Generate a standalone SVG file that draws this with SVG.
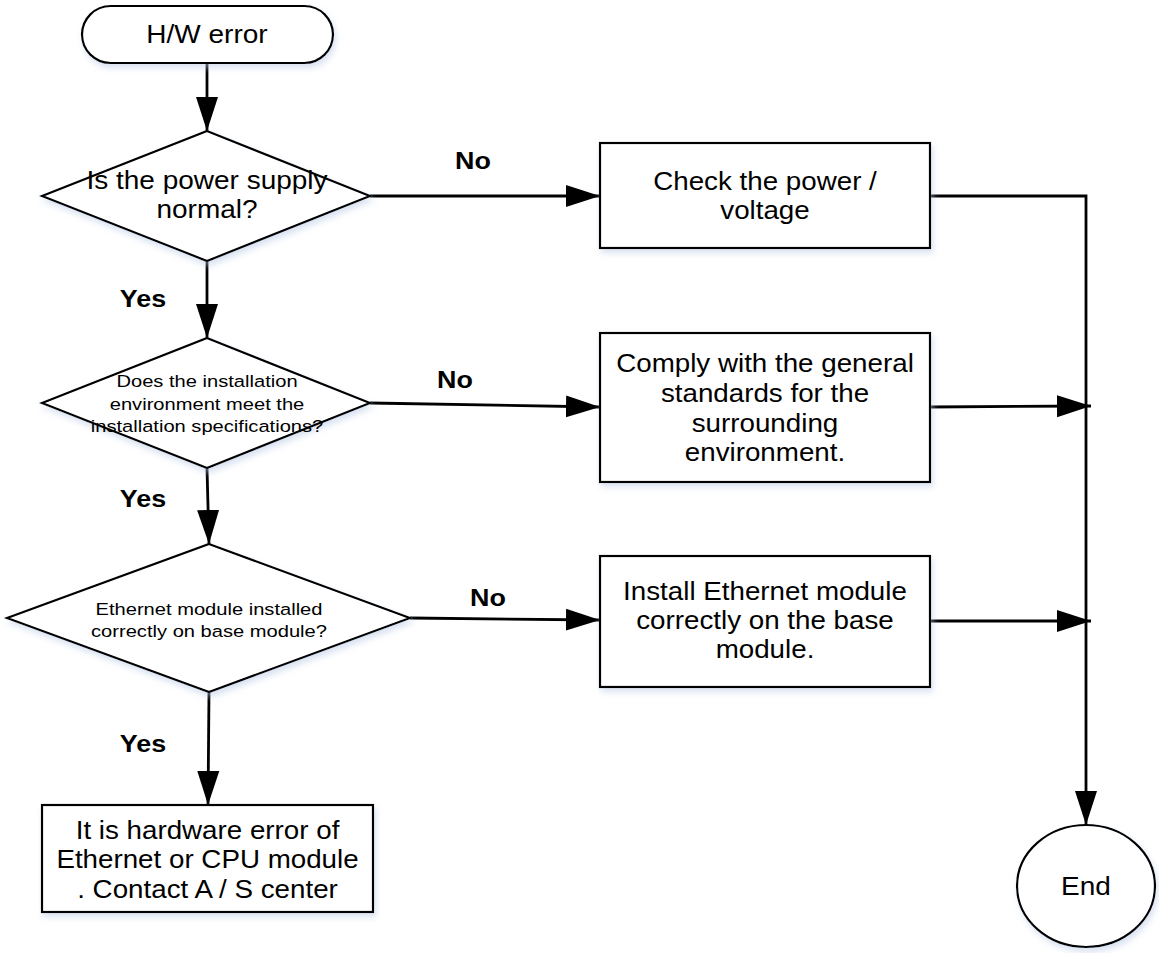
<svg xmlns="http://www.w3.org/2000/svg" width="1159" height="953" viewBox="0 0 1159 953">
  <defs>
    <marker id="ah" markerUnits="userSpaceOnUse" markerWidth="36" markerHeight="24" viewBox="0 0 36 24" refX="34" refY="12" orient="auto">
      <path d="M0,1 L34,12 L0,23 Z" fill="#000"/>
    </marker>
    <filter id="sh" x="-10%" y="-10%" width="120%" height="130%">
      <feDropShadow dx="2" dy="4" stdDeviation="3" flood-color="#b9cbe6" flood-opacity="0.55"/>
    </filter>
  </defs>
  <style>
    .shape { fill: #fff; stroke: #000; stroke-width: 2.2; filter: url(#sh); }
    .conn { fill: none; stroke: #000; stroke-width: 2.8; }
    .t { font-family: "Liberation Sans", Arial, sans-serif; font-size: 25px; fill: #000; text-anchor: middle; }
    .td { font-family: "Liberation Sans", Arial, sans-serif; font-size: 16.5px; fill: #000; text-anchor: middle; }
    .lbl { font-family: "Liberation Sans", Arial, sans-serif; font-size: 24px; font-weight: bold; fill: #000; text-anchor: middle; }
  </style>
  <rect width="1159" height="953" fill="#fff"/>

  <g id="connectors">
    <line class="conn" x1="207" y1="63" x2="207" y2="131" marker-end="url(#ah)"/>
    <line class="conn" x1="370" y1="196" x2="600" y2="196" marker-end="url(#ah)"/>
    <line class="conn" x1="207" y1="261" x2="207" y2="338" marker-end="url(#ah)"/>
    <line class="conn" x1="370" y1="403" x2="600" y2="407" marker-end="url(#ah)"/>
    <line class="conn" x1="207" y1="468" x2="209" y2="544" marker-end="url(#ah)"/>
    <line class="conn" x1="410" y1="618" x2="600" y2="620" marker-end="url(#ah)"/>
    <line class="conn" x1="209" y1="692" x2="208" y2="805" marker-end="url(#ah)"/>
    <path class="conn" d="M930,196 L1086,196 L1086,825" marker-end="url(#ah)"/>
    <line class="conn" x1="930" y1="407" x2="1091" y2="406" marker-end="url(#ah)"/>
    <line class="conn" x1="930" y1="621" x2="1091" y2="621" marker-end="url(#ah)"/>
    <g transform="translate(473,0) scale(1.12,1)"><text class="lbl" x="0" y="169">No</text></g>
    <g transform="translate(455,0) scale(1.12,1)"><text class="lbl" x="0" y="388">No</text></g>
    <g transform="translate(488,0) scale(1.12,1)"><text class="lbl" x="0" y="606">No</text></g>
    <g transform="translate(143,0) scale(1.12,1)"><text class="lbl" x="0" y="307">Yes</text></g>
    <g transform="translate(143,0) scale(1.12,1)"><text class="lbl" x="0" y="507">Yes</text></g>
    <g transform="translate(143,0) scale(1.12,1)"><text class="lbl" x="0" y="752">Yes</text></g>
  </g>

  <g id="start">
    <rect class="shape" x="82" y="6" width="251" height="57" rx="28.5" ry="28.5"/>
    <g transform="translate(207,0) scale(1.12,1)"><text class="t" x="0" y="43">H/W error</text></g>
  </g>

  <g id="decision-power">
    <polygon class="shape" points="207,131 370,196 207,261 42,196"/>
    <g transform="translate(207,0) scale(1.12,1)">
      <text class="t" x="0" y="189">Is the power supply</text>
      <text class="t" x="0" y="218">normal?</text>
    </g>
  </g>

  <g id="box-power">
    <rect class="shape" x="600" y="143" width="330" height="105"/>
    <g transform="translate(765,0) scale(1.11,1)">
      <text class="t" x="0" y="190">Check the power /</text>
      <text class="t" x="0" y="219">voltage</text>
    </g>
  </g>

  <g id="decision-env">
    <polygon class="shape" points="207,338 370,403 207,468 42,403"/>
    <g transform="translate(207,0) scale(1.22,1)">
      <text class="td" x="0" y="387">Does the installation</text>
      <text class="td" x="0" y="410">environment meet the</text>
      <text class="td" x="0" y="432">installation specifications?</text>
    </g>
  </g>

  <g id="box-env">
    <rect class="shape" x="600" y="333" width="330" height="149"/>
    <g transform="translate(765,0) scale(1.11,1)">
      <text class="t" x="0" y="372">Comply with the general</text>
      <text class="t" x="0" y="402">standards for the</text>
      <text class="t" x="0" y="432">surrounding</text>
      <text class="t" x="0" y="461">environment.</text>
    </g>
  </g>

  <g id="decision-module">
    <polygon class="shape" points="209,544 410,618 209,692 7,618"/>
    <g transform="translate(209,0) scale(1.22,1)">
      <text class="td" x="0" y="615">Ethernet module installed</text>
      <text class="td" x="0" y="637">correctly on base module?</text>
    </g>
  </g>

  <g id="box-module">
    <rect class="shape" x="600" y="556" width="330" height="131"/>
    <g transform="translate(765,0) scale(1.11,1)">
      <text class="t" x="0" y="600">Install Ethernet module</text>
      <text class="t" x="0" y="629">correctly on the base</text>
      <text class="t" x="0" y="658">module.</text>
    </g>
  </g>

  <g id="box-hw">
    <rect class="shape" x="42" y="805" width="331" height="107"/>
    <g transform="translate(207.5,0) scale(1.11,1)">
      <text class="t" x="0" y="839">It is hardware error of</text>
      <text class="t" x="0" y="868">Ethernet or CPU module</text>
      <text class="t" x="0" y="898">. Contact A / S center</text>
    </g>
  </g>

  <g id="end">
    <ellipse class="shape" cx="1086" cy="886" rx="69" ry="61"/>
    <g transform="translate(1086,0) scale(1.12,1)"><text class="t" x="0" y="895">End</text></g>
  </g>
</svg>
